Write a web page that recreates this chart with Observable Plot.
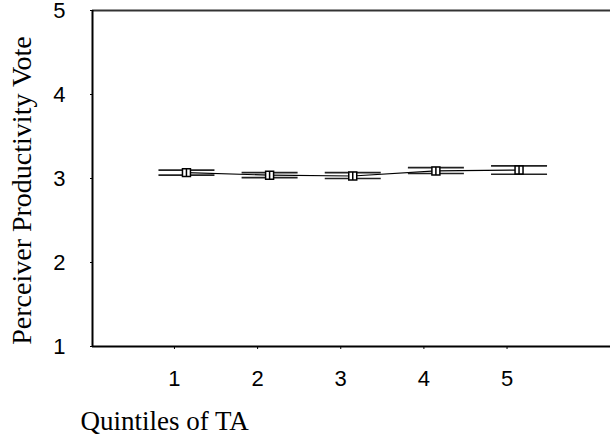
<!DOCTYPE html>
<html>
<head>
<meta charset="utf-8">
<script src="https://cdn.jsdelivr.net/npm/d3@7"></script>
<script src="https://cdn.jsdelivr.net/npm/@observablehq/plot@0.6"></script>
<style>
  html, body { margin: 0; padding: 0; background: #fff; }
  #chart svg { display: block; }
</style>
</head>
<body>
<div id="chart"></div>
<script>
const quintiles = [1, 2, 3, 4, 5];
const means = [3.07, 3.04, 3.03, 3.09, 3.10];
const upper = [3.10, 3.07, 3.07, 3.13, 3.15];
const lower = [3.04, 3.01, 3.00, 3.06, 3.05];
const yTicks = [1, 2, 3, 4, 5];
const xDomain = [-0.13, 6.1];
const yDomain = [1, 5];
const xTitle = "Quintiles of TA";
const yTitle = "Perceiver Productivity Vote";

const data = quintiles.map((q, i) => ({ q, mean: means[i], hi: upper[i], lo: lower[i] }));

const markerSymbol = {
  draw(context, size) {
    const r = Math.sqrt(size) / 2;
    context.moveTo(-r, -r);
    context.lineTo(r, -r);
    context.lineTo(r, r);
    context.lineTo(-r, r);
    context.closePath();
    context.moveTo(0, -r);
    context.lineTo(0, r);
  }
};
const capSymbol = {
  draw(context) {
    context.moveTo(-28, 0);
    context.lineTo(28, 0);
  }
};

const chart = Plot.plot({
  width: 610,
  height: 436,
  marginLeft: 92,
  marginRight: 0,
  marginTop: 10,
  marginBottom: 90,
  style: {
    background: "#fff",
    overflow: "visible",
    fontSize: "22px",
    fontFamily: "Liberation Sans, Arial, sans-serif",
    color: "#000"
  },
  x: { domain: xDomain },
  y: { domain: yDomain },
  marks: [
    Plot.ruleY([yDomain[1]], { stroke: "#333", strokeWidth: 2 }),
    Plot.ruleY([yDomain[0]], { stroke: "#000", strokeWidth: 2 }),
    Plot.ruleX([xDomain[0]], { stroke: "#000", strokeWidth: 2 }),
    Plot.axisY({
      ticks: yTicks,
      tickFormat: d => String(d),
      tickSize: 2,
      tickPadding: 25,
      fontSize: 22,
      fill: "#000",
      label: null
    }),
    Plot.axisX({
      ticks: quintiles,
      tickFormat: d => String(d),
      tickSize: 3,
      tickPadding: 21,
      dx: -12,
      fontSize: 22,
      fill: "#000",
      label: null
    }),
    Plot.line(data, { x: "q", y: "mean", stroke: "#000", strokeWidth: 1.2 }),
    Plot.dot(data, { x: "q", y: "hi", symbol: capSymbol, r: 4, stroke: "#222", strokeWidth: 1.6 }),
    Plot.dot(data, { x: "q", y: "lo", symbol: capSymbol, r: 4, stroke: "#222", strokeWidth: 1.6 }),
    Plot.dot(data, { x: "q", y: "mean", symbol: markerSymbol, r: 4.5, stroke: "#000", fill: "#fff", strokeWidth: 1.5 }),
    Plot.text([yTitle], {
      frameAnchor: "left",
      textAnchor: "middle",
      lineAnchor: "middle",
      rotate: -90,
      dx: -70,
      dy: 12,
      fontSize: 28,
      fontFamily: "Liberation Serif, Times New Roman, serif",
      fill: "#000"
    }),
    Plot.text([xTitle], {
      frameAnchor: "bottom-left",
      textAnchor: "start",
      lineAnchor: "bottom",
      dx: -12,
      dy: 83,
      fontSize: 27,
      fontFamily: "Liberation Serif, Times New Roman, serif",
      fill: "#000"
    })
  ]
});
document.getElementById("chart").appendChild(chart);
</script>
</body>
</html>
